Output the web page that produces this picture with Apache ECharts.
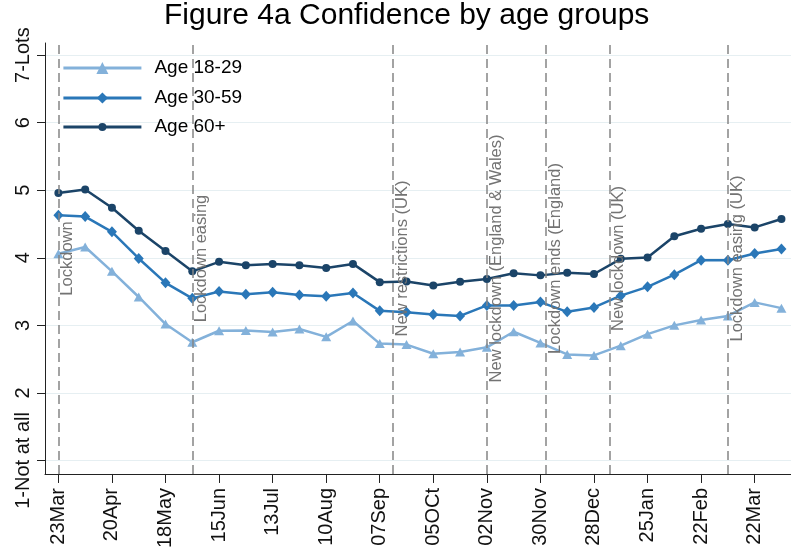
<!DOCTYPE html>
<html><head><meta charset="utf-8">
<script src="https://cdn.jsdelivr.net/npm/echarts@6/dist/echarts.min.js"></script>
<style>html,body{margin:0;padding:0;background:#fff}#c{width:791px;height:551px}</style>
</head><body><div id="c"></div>
<script>
const dates = ['2020-03-23','2020-04-06','2020-04-20','2020-05-04','2020-05-18','2020-06-01','2020-06-15','2020-06-29','2020-07-13','2020-07-27','2020-08-10','2020-08-24','2020-09-07','2020-09-21','2020-10-05','2020-10-19','2020-11-02','2020-11-16','2020-11-30','2020-12-14','2020-12-28','2021-01-11','2021-01-25','2021-02-08','2021-02-22','2021-03-08','2021-03-22','2021-04-05'];
const age1829 = [4.06,4.16,3.80,3.42,3.02,2.75,2.92,2.925,2.90,2.945,2.83,3.065,2.73,2.715,2.58,2.605,2.675,2.905,2.74,2.57,2.555,2.70,2.87,3.00,3.08,3.14,3.34,3.255];
const age3059 = [4.63,4.61,4.385,3.99,3.63,3.40,3.50,3.46,3.49,3.45,3.43,3.48,3.215,3.195,3.16,3.14,3.295,3.295,3.345,3.20,3.265,3.44,3.57,3.75,3.965,3.965,4.065,4.13];
const age60 = [4.96,5.01,4.74,4.40,4.10,3.80,3.94,3.89,3.91,3.89,3.85,3.91,3.64,3.65,3.59,3.645,3.685,3.77,3.74,3.78,3.76,3.985,4.005,4.32,4.43,4.50,4.45,4.575];
const seriesNames = ['Age 18-29','Age 30-59','Age 60+'];
const tickDates = ['2020-03-23','2020-04-20','2020-05-18','2020-06-15','2020-07-13','2020-08-10','2020-09-07','2020-10-05','2020-11-02','2020-11-30','2020-12-28','2021-01-25','2021-02-22','2021-03-22'];
const tickLabels = ['23Mar','20Apr','18May','15Jun','13Jul','10Aug','07Sep','05OCt','02Nov','30Nov','28Dec','25Jan','22Feb','22Mar'];
const yTicks = [1,2,3,4,5,6,7];
const yTickLabels = ['1-Not at all','2','3','4','5','6','7-Lots'];
const eventDates = ['2020-03-23','2020-06-01','2020-09-14','2020-11-02','2020-12-03','2021-01-05','2021-03-08'];
const eventLabels = ['Lockdown','Lockdown easing','New restrictions (UK)','New lockdown (England & Wales)','Lockdown ends (England)','New lockdown (UK)','Lockdown easing (UK)'];

function ts(s){const p=s.split('-').map(Number);return new Date(p[0],p[1]-1,p[2]).getTime();}
const FONT = '"Liberation Sans", Arial, sans-serif';
const Y_MIN = 0.8, Y_MAX = 7.18;
const X_MIN = ts('2020-03-16'), X_MAX = ts('2021-04-10');
const tickTimes = tickDates.map(ts);
const mk = arr => dates.map((d,i)=>[ts(d), arr[i]]);
const COLORS = ['#83B1DA','#2A77B8','#1B4468'];
const legendH = [15, 14, 10];
const legendRowY = [68, 98, 127];

const legendTextStyle = {fontFamily:FONT, fontSize:19, color:'#000', lineHeight:20, padding:[0,0,0,8]};
const legends = seriesNames.map((n,i)=>({
  orient:'vertical', left:62, top:legendRowY[i]-10, padding:0, itemWidth:78, itemHeight:legendH[i],
  data:[{name:n, lineStyle:{width:2.8, color:COLORS[i]}}], lineStyle:{width:2.8}, textStyle:legendTextStyle, selectedMode:false
}));

const chart = echarts.init(document.getElementById('c'), null, {renderer:'canvas'});
chart.setOption({
  animation:false,
  backgroundColor:'#fff',
  textStyle:{fontFamily:FONT},
  title:{text:'Figure 4a Confidence by age groups', left:164, top:1, padding:0,
    textStyle:{fontFamily:FONT, fontSize:30, fontWeight:'normal', color:'#000'}},
  legend:legends,
  grid:{left:45, right:0, top:43, bottom:77, containLabel:false},
  xAxis:{type:'value', min:X_MIN, max:X_MAX,
    axisLine:{show:true, lineStyle:{color:'#222', width:1}},
    axisTick:{show:true, length:9, customValues:tickTimes, lineStyle:{color:'#222'}},
    splitLine:{show:false},
    axisLabel:{customValues:tickTimes, rotate:90, margin:14, fontSize:20, color:'#111', fontFamily:FONT,
      formatter:v=>{const i=tickTimes.indexOf(v);return i>=0?tickLabels[i]:'';}}},
  yAxis:{type:'value', min:Y_MIN, max:Y_MAX,
    axisLine:{show:true, lineStyle:{color:'#222', width:1}},
    axisTick:{show:true, length:8, customValues:yTicks, lineStyle:{color:'#222'}},
    splitLine:{show:true, lineStyle:{color:'#E6EFF2', width:1}},
    axisLabel:{customValues:yTicks, rotate:90, margin:12, fontSize:20, color:'#111', fontFamily:FONT,
      formatter:v=>{const i=yTicks.indexOf(v);return i>=0?yTickLabels[i]:'';}}},
  series:[
    {type:'line', data:[], z:1, silent:true,
     markLine:{silent:true, symbol:['none','none'], animation:false,
       lineStyle:{color:'#858585', width:1.5, type:[9,5]},
       label:{show:true, position:'insideMiddleBottom', distance:1, color:'#737373', fontSize:16.5, fontFamily:FONT},
       data:eventDates.map((d,i)=>[{xAxis:ts(d), yAxis:Y_MIN, label:{formatter:eventLabels[i]}},{xAxis:ts(d), yAxis:Y_MAX}])}},
    {name:seriesNames[0], type:'line', data:mk(age1829), z:3, symbol:'triangle', symbolSize:[10,9],
     color:COLORS[0], lineStyle:{width:2.5, color:COLORS[0]}, itemStyle:{color:COLORS[0]}},
    {name:seriesNames[1], type:'line', data:mk(age3059), z:3, symbol:'diamond', symbolSize:[10,11],
     color:COLORS[1], lineStyle:{width:2.5, color:COLORS[1]}, itemStyle:{color:COLORS[1]}},
    {name:seriesNames[2], type:'line', data:mk(age60), z:3, symbol:'circle', symbolSize:8,
     color:COLORS[2], lineStyle:{width:2.5, color:COLORS[2]}, itemStyle:{color:COLORS[2]}}
  ]
});
</script></body></html>
